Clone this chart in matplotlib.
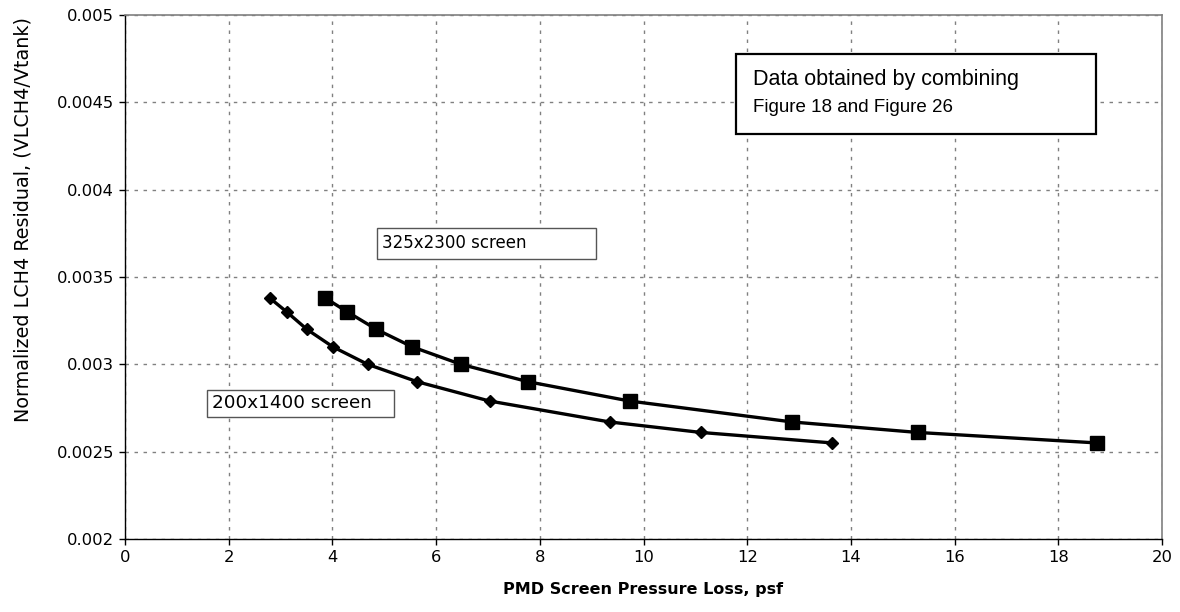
import matplotlib
matplotlib.use("Agg")
import matplotlib.pyplot as plt
from matplotlib.patches import Rectangle

# Data
x_200 = [2.79, 3.12, 3.51, 4.01, 4.68, 5.64, 7.03, 9.35, 11.11, 13.64]
y_200 = [0.00338, 0.00330, 0.00320, 0.00310, 0.00300, 0.00290, 0.00279, 0.00267, 0.00261, 0.00255]
x_325 = [3.86, 4.29, 4.85, 5.54, 6.48, 7.78, 9.73, 12.87, 15.29, 18.75]
y_325 = [0.00338, 0.00330, 0.00320, 0.00310, 0.00300, 0.00290, 0.00279, 0.00267, 0.00261, 0.00255]

x_ticks = [0, 2, 4, 6, 8, 10, 12, 14, 16, 18, 20]
y_ticks = [0.002, 0.0025, 0.003, 0.0035, 0.004, 0.0045, 0.005]
y_tick_labels = ["0.002", "0.0025", "0.003", "0.0035", "0.004", "0.0045", "0.005"]

W, H = 1180, 612
fig = plt.figure(figsize=(W / 100, H / 100), dpi=100)
L, R, T, B = 125, 1162, 15, 539
ax = fig.add_axes([L / W, 1 - B / H, (R - L) / W, (B - T) / H])

def fx(px):
    return px / W

def fy(py):
    return 1 - py / H

ax.plot(x_325, y_325, color="black", lw=2.4, marker="s", ms=9.5, mfc="black", mec="black", zorder=3)
ax.plot(x_200, y_200, color="black", lw=2.4, marker="D", ms=5.8, mfc="black", mec="black", zorder=3)

ax.set_xlim(0, 20)
ax.set_ylim(0.002, 0.005)
ax.set_xticks(x_ticks)
ax.set_xticklabels([str(v) for v in x_ticks])
ax.set_yticks(y_ticks)
ax.set_yticklabels(y_tick_labels)
ax.tick_params(direction="out", length=4, width=1, labelsize=11.8, pad=4)
ax.grid(True, color="#808080", linestyle=(0, (2.5, 4)), lw=1)
ax.set_axisbelow(True)

for s in ["left", "bottom"]:
    ax.spines[s].set_color("black")
    ax.spines[s].set_linewidth(1)
for s in ["top", "right"]:
    ax.spines[s].set_color("#808080")
    ax.spines[s].set_linewidth(1.2)

ax.set_xlabel("PMD Screen Pressure Loss, psf", fontsize=11.5, fontweight="bold", labelpad=12)
ax.set_ylabel("Normalized LCH4 Residual, (VLCH4/Vtank)", fontsize=13.8)
ax.yaxis.set_label_coords(-0.089, 0.609)

# Annotation box (top right)
fig.patches.append(Rectangle((fx(736), fy(134)), fx(1096) - fx(736), fy(54) - fy(134),
                             transform=fig.transFigure, fill=True, facecolor="white",
                             edgecolor="black", lw=1.6, zorder=5))
fig.text(fx(753), fy(80), "Data obtained by combining", family="Liberation Sans",
         fontsize=15.5, va="center", ha="left", zorder=6)
fig.text(fx(753), fy(108), "Figure 18 and Figure 26", family="Liberation Sans",
         fontsize=13.5, va="center", ha="left", zorder=6)

# Series labels
fig.patches.append(Rectangle((fx(377), fy(259)), fx(596) - fx(377), fy(228) - fy(259),
                             transform=fig.transFigure, fill=True, facecolor="white",
                             edgecolor="#555555", lw=1, zorder=5))
fig.text(fx(382), fy(243), "325x2300 screen", fontsize=12, va="center", ha="left", zorder=6)

fig.patches.append(Rectangle((fx(207), fy(417)), fx(394) - fx(207), fy(390) - fy(417),
                             transform=fig.transFigure, fill=True, facecolor="white",
                             edgecolor="#555555", lw=1, zorder=5))
fig.text(fx(212), fy(403), "200x1400 screen", fontsize=13.2, va="center", ha="left", zorder=6)

fig.savefig("out.png", dpi=100)
